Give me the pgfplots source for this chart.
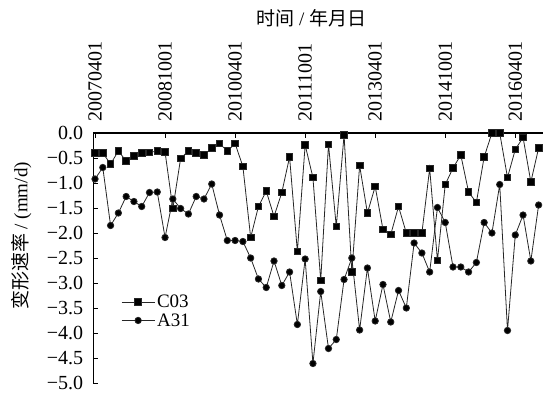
\documentclass[border=0pt]{standalone}
\usepackage{pgfplots}
\pgfplotsset{compat=1.18}
\usepackage{fontspec}
\setmainfont{Liberation Serif}
\newfontfamily\cjk{Noto Sans CJK SC}
\pgfplotstableread{
i c03 a31
0 -0.40 -0.92
1 -0.40 -0.69
2 -0.62 -1.85
3 -0.36 -1.60
4 -0.56 -1.27
5 -0.46 -1.37
6 -0.40 -1.47
7 -0.39 -1.19
8 -0.36 -1.18
9 -0.38 -2.09
10 -1.51 -1.32
11 -0.51 -1.51
12 -0.36 -1.62
13 -0.40 -1.27
14 -0.44 -1.32
15 -0.30 -1.02
16 -0.21 -1.64
17 -0.36 -2.15
18 -0.21 -2.15
19 -0.67 -2.17
20 -2.09 -2.50
21 -1.47 -2.92
22 -1.16 -3.09
23 -1.67 -2.56
24 -1.19 -3.05
25 -0.48 -2.78
26 -2.37 -3.83
27 -0.24 -2.52
28 -0.89 -4.61
29 -2.95 -3.17
30 -0.23 -4.31
31 -1.87 -4.13
32 -0.04 -2.93
33 -2.78 -2.50
34 -0.65 -3.94
35 -1.60 -2.70
36 -1.07 -3.76
37 -1.93 -3.03
38 -2.03 -3.78
39 -1.47 -3.15
40 -2.00 -3.50
41 -2.00 -2.20
42 -2.00 -2.40
43 -0.71 -2.78
44 -2.55 -1.49
45 -1.03 -1.79
46 -0.70 -2.68
47 -0.44 -2.68
48 -1.18 -2.78
49 -1.39 -2.59
50 -0.48 -1.79
51 0.00 -2.00
52 0.00 -1.03
53 -0.89 -3.95
54 -0.33 -2.04
55 -0.09 -1.64
56 -0.98 -2.56
57 -0.30 -1.44
}\datatable
\begin{document}
\begin{tikzpicture}
\useasboundingbox (0,0) rectangle (545bp,394bp);
\begin{axis}[
  at={(93.3bp,11bp)}, anchor=south west,
  scale only axis, width=450bp, height=250bp,
  xmin=-0.22, xmax=57.6, ymin=-5, ymax=0,
  axis x line=top, axis y line=left,
  axis line style={-, line width=1.1bp},
  tick align=inside, major tick length=5bp,
  tick style={line width=0.9bp, black},
  font=\fontsize{20bp}{21bp}\selectfont,
  xtick={0,9,18,27,36,45,54},
  xticklabels={20070401,20081001,20100401,20111001,20130401,20141001,20160401},
  xticklabel style={rotate=90, anchor=west, inner xsep=11bp, inner ysep=0bp},
  ytick={0,-0.5,-1,-1.5,-2,-2.5,-3,-3.5,-4,-4.5,-5},
  yticklabels={0.0,−0.5,−1.0,−1.5,−2.0,−2.5,−3.0,−3.5,−4.0,−4.5,−5.0},
  yticklabel style={inner sep=0bp, anchor=east, xshift=-10bp},
  xlabel={{\cjk 时间} / {\cjk 年月日}},
  xlabel style={font=\fontsize{19bp}{20bp}\selectfont, xshift=-7bp},
  ylabel={{\cjk 变形速率} / (mm/d)},
  ylabel style={font=\fontsize{19bp}{20bp}\selectfont, yshift=12bp, xshift=22bp},
  clip=false,
  legend style={at={(0.055,0.37)}, anchor=north west, draw=none, fill=none,
    font=\fontsize{19bp}{18bp}\selectfont, row sep=0bp,
    nodes={inner ysep=2.2bp, inner xsep=2bp},
    legend image code/.code={\draw[mark repeat=2,mark phase=2,#1] plot coordinates {(0bp,0bp)(16.5bp,0bp)(33bp,0bp)};}},
  legend cell align=left,
]
\addplot[black!85, line width=0.8bp, mark=square*, mark size=3.3bp, mark options={solid, fill=black}] table[x=i, y=c03] {\datatable};
\addlegendentry{C03}
\addplot[black!85, line width=0.8bp, mark=*, mark size=3.2bp, mark options={solid, fill=black}] table[x=i, y=a31] {\datatable};
\addlegendentry{A31}
\end{axis}
\end{tikzpicture}
\end{document}
